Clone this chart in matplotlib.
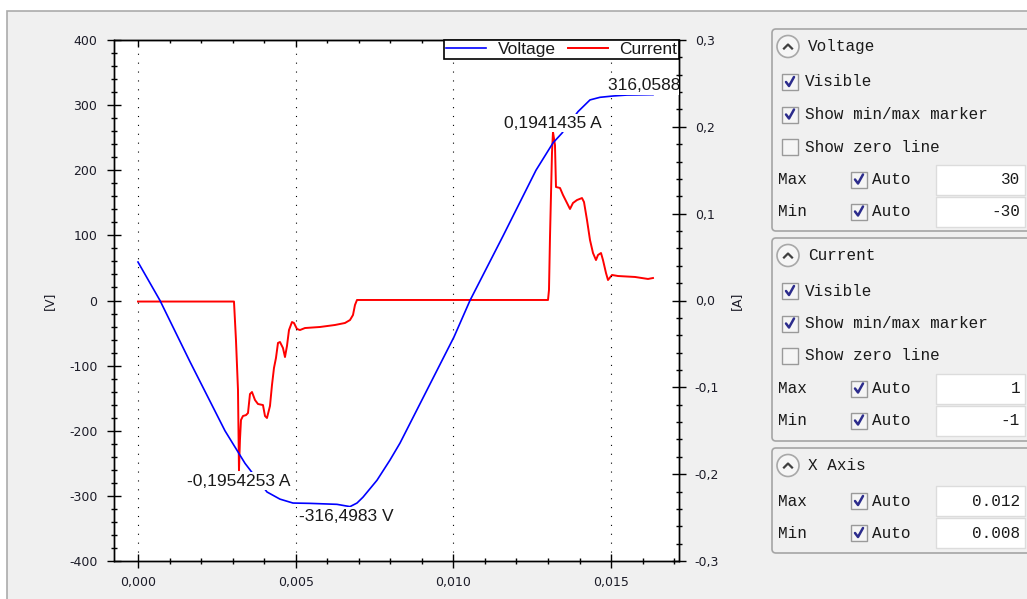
import numpy as np
import matplotlib.pyplot as plt
from matplotlib.patches import Rectangle, FancyBboxPatch, Circle
from matplotlib.ticker import MultipleLocator, FuncFormatter

# voltage trace, time [s] / value [V]
t_voltage = [0.0, 0.000698, 0.001649, 0.002758, 0.003393, 0.00409, 0.004502, 0.004914,
             0.005453, 0.006309, 0.006722, 0.006944, 0.007134, 0.007578, 0.00799, 0.008307,
             0.010019, 0.010526, 0.011573, 0.012619, 0.013158, 0.013443, 0.013951, 0.014331,
             0.014648, 0.01506, 0.015504, 0.016297, 0.016328]
voltage = [59.1, 0.0, -94.0, -200.0, -250.0, -294.0, -305.0, -311.0,
           -311.5, -313.0, -316.4983, -311.0, -302.0, -276.0, -245.0, -219.0,
           -56.0, 0.0, 99.0, 200.0, 242.0, 257.0, 290.0, 308.0,
           312.0, 314.0, 315.5, 316.0588, 316.0]

# current trace, time [s] / value [A]
t_current = [0.0, 0.003044, 0.003107, 0.003171, 0.003202, 0.003234, 0.003266, 0.003329,
             0.003424, 0.003488, 0.003551, 0.003615, 0.00371, 0.003805, 0.003963, 0.004027,
             0.00409, 0.004185, 0.004249, 0.004312, 0.004375, 0.004439, 0.004502, 0.004597,
             0.004661, 0.004724, 0.004788, 0.004883, 0.004946, 0.005041, 0.005136, 0.005295,
             0.005771, 0.006246, 0.006563, 0.006722, 0.006817, 0.00688, 0.006944, 0.013,
             0.013031, 0.013063, 0.013126, 0.013158, 0.013221, 0.013253, 0.01338, 0.013475,
             0.013602, 0.013697, 0.013792, 0.013919, 0.014077, 0.014141, 0.014236, 0.014331,
             0.014426, 0.014521, 0.014585, 0.01468, 0.014743, 0.014838, 0.014902, 0.015029,
             0.015219, 0.015758, 0.01617, 0.016328]
current = [-0.0012, -0.0012, -0.0455, -0.103, -0.1954253, -0.16, -0.1376, -0.133,
           -0.132, -0.1296, -0.1077, -0.1054, -0.1146, -0.1192, -0.1204, -0.133,
           -0.1353, -0.1215, -0.0973, -0.0777, -0.0662, -0.0489, -0.0478, -0.0547,
           -0.0651, -0.0524, -0.034, -0.0248, -0.0259, -0.0328, -0.034, -0.0317,
           -0.0305, -0.0282, -0.0259, -0.0225, -0.0167, -0.0052, 0.0006, 0.0006,
           0.0121, 0.0731, 0.1699, 0.1941435, 0.179, 0.1307, 0.1296, 0.1215,
           0.1123, 0.1054, 0.1123, 0.1157, 0.118, 0.1134, 0.0927, 0.0697,
           0.0547, 0.0466, 0.0524, 0.0547, 0.0466, 0.0317, 0.0236, 0.0294,
           0.0282, 0.0271, 0.0248, 0.0259]

x_ticks = [0.0, 0.005, 0.010, 0.015]
v_ticks = [-400, -300, -200, -100, 0, 100, 200, 300, 400]
a_ticks = [-0.3, -0.2, -0.1, 0.0, 0.1, 0.2, 0.3]

# side panel contents
group_titles = ["Voltage", "Current", "X Axis"]
option_labels = ["Visible", "Show min/max marker", "Show zero line"]
option_checked = [True, True, False]
limit_values = [("30", "-30"), ("1", "-1"), ("0.012", "0.008")]

W, H = 1027, 599
fig = plt.figure(figsize=(W / 100, H / 100), dpi=100)
fig.patch.set_facecolor("white")

# ---- background / side panel, drawn in pixel coordinates ----
ui = fig.add_axes([0, 0, 1, 1])
ui.set_xlim(0, W)
ui.set_ylim(H, 0)
ui.axis("off")
ui.set_zorder(-1)
ui.add_patch(Rectangle((7, 11), W, H, facecolor="#f0f0f0", edgecolor="#ababab", lw=1.2))

mono = dict(family=["Liberation Mono", "DejaVu Sans Mono"], size=11.5, color="#1a1a1a")
group_tops = [29, 238, 448]
group_bottoms = [231, 441, 553]


def checkbox(x, yc, checked):
    ui.add_patch(Rectangle((x, yc - 8), 16, 16, facecolor="#f5f5f5", edgecolor="#9a9a9a", lw=1))
    if checked:
        cx = x + 8
        ui.plot([cx - 4, cx - 1, cx + 4], [yc, yc + 4, yc - 5], color="#2c2c8c", lw=1.8,
                solid_capstyle="round")


for i, title in enumerate(group_titles):
    top, bot = group_tops[i], group_bottoms[i]
    ui.add_patch(FancyBboxPatch((772, top), 300, bot - top, boxstyle="round,pad=0,rounding_size=4",
                                facecolor="#f0f0f0", edgecolor="#a5a5a5", lw=1.2))
    by = top + 17.5
    ui.add_patch(Circle((788, by), 11, facecolor="#f6f6f6", edgecolor="#a8a8a8", lw=1.2))
    ui.plot([784, 788, 792], [by + 2, by - 2, by + 2], color="#404040", lw=1.6)
    ui.text(808, by, title, va="center", ha="left", **mono)

    row = top + 53
    if title != "X Axis":
        for label, checked in zip(option_labels, option_checked):
            checkbox(782, row, checked)
            ui.text(805, row, label, va="center", ha="left", **mono)
            row += 32.5
    for name, value in zip(["Max", "Min"], limit_values[i]):
        ui.text(778, row, name, va="center", ha="left", **mono)
        checkbox(851, row, True)
        ui.text(872, row, "Auto", va="center", ha="left", **mono)
        ui.add_patch(Rectangle((936, row - 15), 89, 30, facecolor="white", edgecolor="#dcdcdc", lw=1))
        ui.text(1020, row, value, va="center", ha="right", **mono)
        row += 32

# ---- chart ----
rect = [114 / W, (H - 561) / H, (679 - 114) / W, (561 - 40) / H]
ax = fig.add_axes(rect)
ax2 = ax.twinx()
ax.set_zorder(2)
ax.patch.set_visible(False)
ax2.patch.set_visible(True)
ax2.patch.set_facecolor("white")

blue, = ax.plot(t_voltage, voltage, color="#0000ff", lw=1.2, zorder=3)
red, = ax2.plot(t_current, current, color="#ff0000", lw=1.4)

ax.set_xlim(-0.00076, 0.017153)
ax.set_ylim(-400, 400)
ax2.set_ylim(-0.3, 0.3)

ax.set_xticks(x_ticks)
ax.xaxis.set_minor_locator(MultipleLocator(0.001))
ax.set_yticks(v_ticks)
ax.yaxis.set_minor_locator(MultipleLocator(20))
ax2.set_yticks(a_ticks)
ax2.yaxis.set_minor_locator(MultipleLocator(0.02))

ax.xaxis.set_major_formatter(FuncFormatter(lambda v, p: f"{v:.3f}".replace(".", ",")))
ax.yaxis.set_major_formatter(FuncFormatter(lambda v, p: f"{v:.0f}"))
ax2.yaxis.set_major_formatter(
    FuncFormatter(lambda v, p: f"{0.0 if abs(v) < 1e-9 else v:.1f}".replace(".", ",")))

tick_col = "#1c1c28"
for a in (ax, ax2):
    a.tick_params(which="major", direction="inout", length=10, width=1, labelsize=9,
                  labelcolor=tick_col, color="black")
    a.tick_params(which="minor", direction="inout", length=5, width=1, color="black")
    for s in a.spines.values():
        s.set_linewidth(1)
ax.tick_params(axis="y", right=False, which="both", pad=7)
ax.tick_params(axis="x", which="major", pad=5.5)
ax2.tick_params(axis="y", which="major", pad=6.3)

top_axis = ax.secondary_xaxis("top")
top_axis.set_xticks(x_ticks)
top_axis.xaxis.set_minor_locator(MultipleLocator(0.001))
top_axis.tick_params(which="major", direction="in", length=5, width=1, labeltop=False)
top_axis.tick_params(which="minor", direction="in", length=2.5, width=1)

ax.grid(axis="x", which="major", color="black", linestyle=(0, (1, 7)), linewidth=0.8)

ax.set_ylabel("[V]", fontsize=9, color=tick_col)
ax.yaxis.set_label_coords(-0.102, 0.5)
ax2.set_ylabel("[A]", fontsize=9, color=tick_col)
ax2.yaxis.set_label_coords(1.09, 0.5)

leg = ax.legend([blue, red], ["Voltage", "Current"], loc="upper right", bbox_to_anchor=(1, 1),
                ncol=2, fancybox=False, edgecolor="black", framealpha=1, borderaxespad=0,
                handlelength=2.3, handletextpad=0.65, columnspacing=0.7, borderpad=0.12,
                prop={"family": "Liberation Sans", "size": 12.5})
leg.get_frame().set_linewidth(1.2)
for txt in leg.get_texts():
    txt.set_color("#1a1a1a")

# min / max markers
ann = dict(textcoords="offset points", ha="center", fontsize=12.5, family="Liberation Sans",
           color="#1a1a1a", bbox=dict(boxstyle="square,pad=0.08", fc="white", ec="none"),
           clip_on=True, zorder=5)
iv_min, iv_max = int(np.argmin(voltage)), int(np.argmax(voltage))
ic_min, ic_max = int(np.argmin(current)), int(np.argmax(current))
ax.annotate(f"{voltage[iv_min]:.4f} V".replace(".", ","), (t_voltage[iv_min], voltage[iv_min]),
            xytext=(-3, -1.5), va="top", **ann)
ax.annotate(f"{voltage[iv_max]:.4f} V".replace(".", ","), (t_voltage[iv_max], voltage[iv_max]),
            xytext=(0, 1), va="bottom", **ann)
ax.annotate(f"{current[ic_min]:.7f} A".replace(".", ","), (t_current[ic_min], current[ic_min]),
            xycoords=ax2.transData, xytext=(0, -2.5), va="top", **ann)
ax.annotate(f"{current[ic_max]:.7f} A".replace(".", ","), (t_current[ic_max], current[ic_max]),
            xycoords=ax2.transData, xytext=(0, 1), va="bottom", **ann)

fig.savefig("out.png", dpi=100)
